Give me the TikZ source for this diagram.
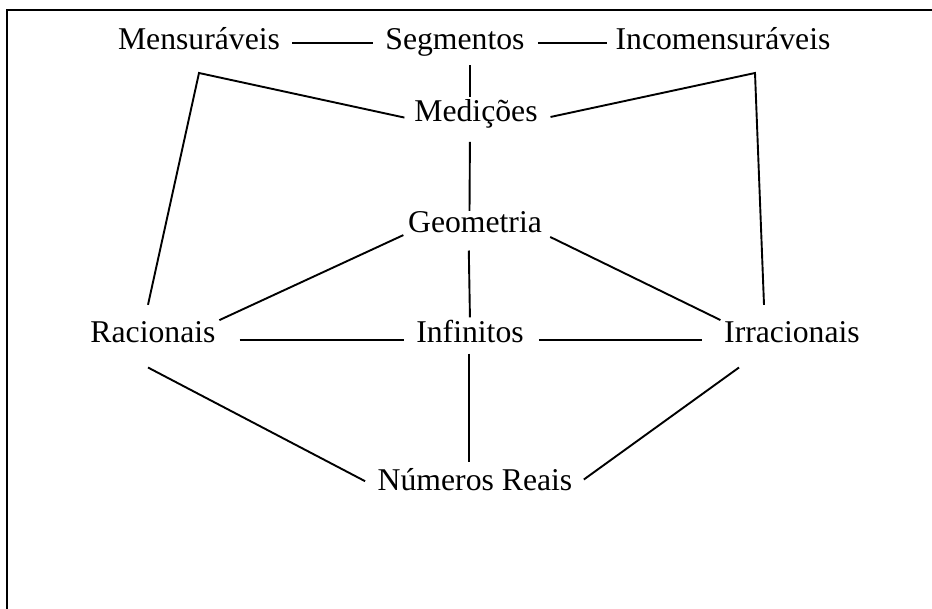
\documentclass[tikz,border=0pt]{standalone}
\usepackage{fontspec}
\setmainfont{Liberation Serif}
\tikzset{termo/.style={inner sep=0pt, anchor=base, font=\fontsize{31.7}{38}\selectfont}}
\tikzset{liga/.style={line width=1.9pt}}

\begin{document}
\begin{tikzpicture}[x=1pt, y=-1pt]
\useasboundingbox (0,0) rectangle (932,609);
\draw[line width=2.2pt] (7,609) -- (7,10) -- (932,10);
\node[termo] (mens) at (199,50) {Mensuráveis};
\node[termo] (seg) at (455,50) {Segmentos};
\node[termo] (inc) at (723,50) {Incomensuráveis};
\node[termo] (med) at (476,122) {Medições};
\node[termo] (geo) at (475,233) {Geometria};
\node[termo] (rac) at (153,343) {Racionais};
\node[termo] (inf) at (470,343) {Infinitos};
\node[termo] (irr) at (792,343) {Irracionais};
\node[termo] (nr) at (475,490) {Números Reais};
\coordinate (cantoE) at ([yshift=-23pt]mens.base);
\coordinate (cantoD) at ([shift={(32pt,-23pt)}]inc.base);
% linha de cima
\draw[liga, shorten <=12pt, shorten >=12pt] ([yshift=7pt]mens.base east) -- ([yshift=7pt]seg.base west);
\draw[liga, shorten <=13pt, shorten >=8pt] ([yshift=7pt]seg.base east) -- ([yshift=7pt]inc.base west);
% eixo central
\draw[liga, shorten <=8pt, shorten >=3pt] ([xshift=15pt]seg.south) -- ([xshift=-6pt]med.north);
\draw[liga, shorten <=13pt, shorten >=1pt] ([xshift=-6pt]med.south) -- ([xshift=-5.5pt]geo.north);
\draw[liga, shorten <=17pt, shorten >=3pt] ([xshift=-6.5pt]geo.south) -- (inf.north);
\draw[liga, shorten <=10pt, shorten >=6pt] ([xshift=-1pt]inf.south) -- ([xshift=-6pt]nr.north);
% linha do meio
\draw[liga, shorten <=24pt, shorten >=12pt] ([yshift=3pt]rac.base east) -- ([yshift=3pt]inf.base west);
\draw[liga, shorten <=15pt, shorten >=22pt] ([yshift=3pt]inf.base east) -- ([yshift=3pt]irr.base west);
\draw[liga, shorten <=5pt, shorten >=4pt] (geo.base west) -- (rac.north east);
\draw[liga, shorten <=9pt, shorten >=4pt] (geo.base east) -- (irr.north west);
% para baixo
\draw[liga, shorten >=14pt] ([shift={(-5pt,-24pt)}]rac.south) -- (nr.mid west);
\draw[liga, shorten >=14pt] ([shift={(-53pt,-24pt)}]irr.south) -- (nr.mid east);
% cantos
\draw[liga, shorten >=10pt] ([shift={(-5pt,17pt)}]rac.north) -- (cantoE) -- (med.mid west);
\draw[liga, shorten <=13pt] (med.mid east) -- (cantoD) -- ([shift={(-28pt,17pt)}]irr.north);
\end{tikzpicture}
\end{document}
